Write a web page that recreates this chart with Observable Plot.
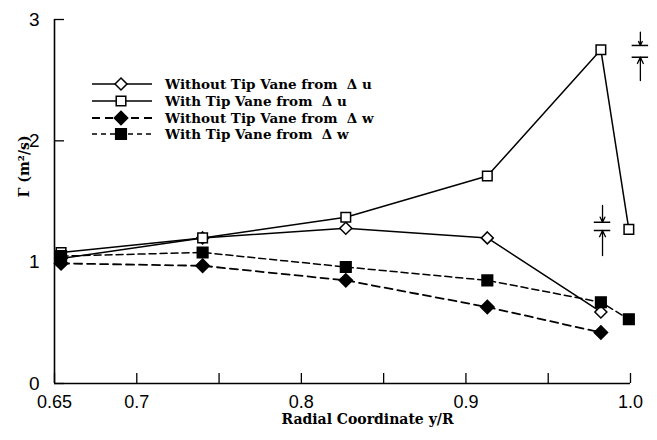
<!DOCTYPE html>
<html><head><meta charset="utf-8">
<script src="https://cdn.jsdelivr.net/npm/d3@7"></script>
<script src="https://cdn.jsdelivr.net/npm/@observablehq/plot@0.6"></script>
<style>body{margin:0;background:#fff} #chart{width:657px;height:440px}</style>
</head><body><div id="chart"></div>
<script>
// ---- data ----
const radial = [0.654, 0.740, 0.827, 0.913, 0.982, 0.999];
const withoutVaneDu = [1.03, 1.20, 1.28, 1.20, 0.59];
const withVaneDu = [1.08, 1.20, 1.37, 1.71, 2.75, 1.27];
const withoutVaneDw = [0.99, 0.97, 0.85, 0.63, 0.42];
const withVaneDw = [1.05, 1.08, 0.96, 0.85, 0.67, 0.53];
const seriesNames = ["Without Tip Vane from  \u0394 u", "With Tip Vane from  \u0394 u", "Without Tip Vane from  \u0394 w", "With Tip Vane from  \u0394 w"];
const xTicks = [0.65, 0.7, 0.75, 0.8, 0.85, 0.9, 0.95, 1.0];
const xTickLabels = ["0.65", "0.7", "", "0.8", "", "0.9", "", "1.0"];
const yTicks = [0, 1, 2, 3];
const yTickLabels = ["0", "1", "2", "3"];
const xTitle = "Radial Coordinate y/R";
const yTitle = "\u0393 (m\u00b2/s)";
// tip-vane thickness indicators (data units)
const vaneX = [1.006, 0.983];
const vaneTop = [2.786, 1.329];
const vaneBottom = [2.689, 1.261];
const arrowFromTop = [2.895, 1.467];
const arrowFromBottom = [2.497, 1.055];

// ---- styles ----
const seriesValues = [withoutVaneDu, withVaneDu, withoutVaneDw, withVaneDw];
const seriesStyle = [
  {symbol: "diamond2", fill: "white", r: 5.4, dash: null, sw: 1.5},
  {symbol: "square", fill: "white", r: 5.4, dash: null, sw: 1.5},
  {symbol: "diamond2", fill: "black", r: 6.0, dash: "8,5", sw: 1.8},
  {symbol: "square", fill: "black", r: 6.0, dash: "7,4", sw: 1.5}
];

const rows = seriesValues.flatMap((vals, s) => vals.map((v, j) => ({x: radial[j], y: v, s})));
const vanes = vaneX.map((x, i) => ({x, top: vaneTop[i], bottom: vaneBottom[i], aTop: arrowFromTop[i], aBot: arrowFromBottom[i]}));
const halfW = 0.005;

const serif = "'DejaVu Serif', 'Liberation Serif', serif";
const lookup = (ticks, labels) => d => labels[ticks.findIndex(t => Math.abs(t - d) < 1e-9)];
const marks = [
  Plot.ruleX([0.65], {strokeWidth: 1.6}),
  Plot.ruleY([0], {strokeWidth: 1.6}),
  Plot.axisX({ticks: xTicks, tickSize: -10, tickPadding: 22, tickFormat: lookup(xTicks, xTickLabels), label: null, strokeWidth: 1.3, fontSize: 18}),
  Plot.axisY({ticks: yTicks, tickSize: -10, tickPadding: 25, tickFormat: lookup(yTicks, yTickLabels), label: null, strokeWidth: 1.3, fontSize: 19}),
  Plot.text([yTitle], {frameAnchor: "left", dx: -30, dy: -4, rotate: -90, text: d => d, fontFamily: serif, fontWeight: "bold", fontSize: 14}),
  Plot.text([xTitle], {frameAnchor: "bottom", dy: 40, dx: 25, text: d => d, fontFamily: serif, fontWeight: "bold", fontSize: 14})
];
seriesStyle.forEach((st, s) => {
  const d = rows.filter(r => r.s === s);
  marks.push(Plot.line(d, {x: "x", y: "y", stroke: "black", strokeWidth: st.sw, strokeDasharray: st.dash}));
});
seriesStyle.forEach((st, s) => {
  const d = rows.filter(r => r.s === s);
  marks.push(Plot.dot(d, {x: "x", y: "y", symbol: () => st.symbol, r: st.r, fill: st.fill, stroke: "black", strokeWidth: 1.5}));
});
marks.push(
  Plot.ruleY(vanes, {y: "top", x1: d => d.x - halfW, x2: d => d.x + halfW, strokeWidth: 1.5}),
  Plot.ruleY(vanes, {y: "bottom", x1: d => d.x - halfW, x2: d => d.x + halfW, strokeWidth: 1.5}),
  Plot.arrow(vanes, {x1: "x", x2: "x", y1: "aTop", y2: "top", strokeWidth: 1.3, headLength: 8, headAngle: 50}),
  Plot.arrow(vanes, {x1: "x", x2: "x", y1: "aBot", y2: "bottom", strokeWidth: 1.3, headLength: 8, headAngle: 50})
);

const chart = Plot.plot({
  width: 657, height: 440,
  marginLeft: 54, marginRight: 27, marginTop: 19, marginBottom: 57,
  x: {domain: [0.65, 1.0]},
  y: {domain: [0, 3]},
  style: {fontFamily: "'Liberation Sans', Arial, sans-serif", fontSize: "17px", color: "black", background: "white", overflow: "visible"},
  marks
});
document.getElementById("chart").appendChild(chart);

// ---- legend (inside plot, top-left) ----
const svg = d3.select(chart);
const lg = svg.append("g").attr("class", "legend").attr("text-anchor", "start");
const rowY = [84, 101, 118, 134];
seriesNames.forEach((name, i) => {
  const st = seriesStyle[i];
  const y = rowY[i];
  lg.append("line").attr("x1", 92).attr("x2", 152).attr("y1", y).attr("y2", y)
    .attr("stroke", "black").attr("stroke-width", st.sw).attr("stroke-dasharray", i === 3 ? "5,4" : st.dash);
  const sym = st.symbol === "square" ? d3.symbolSquare : d3.symbolDiamond2;
  lg.append("path").attr("d", d3.symbol(sym, Math.PI * st.r * st.r)()).attr("transform", `translate(121,${y})`)
    .attr("fill", st.fill).attr("stroke", "black").attr("stroke-width", 1.5);
  lg.append("text").attr("x", 165).attr("y", y).attr("dy", "0.35em").attr("text-anchor", "start").style("white-space", "pre")
    .attr("font-family", serif).attr("font-weight", "bold").attr("font-size", 13.5).text(name);
});
</script>
</body></html>
